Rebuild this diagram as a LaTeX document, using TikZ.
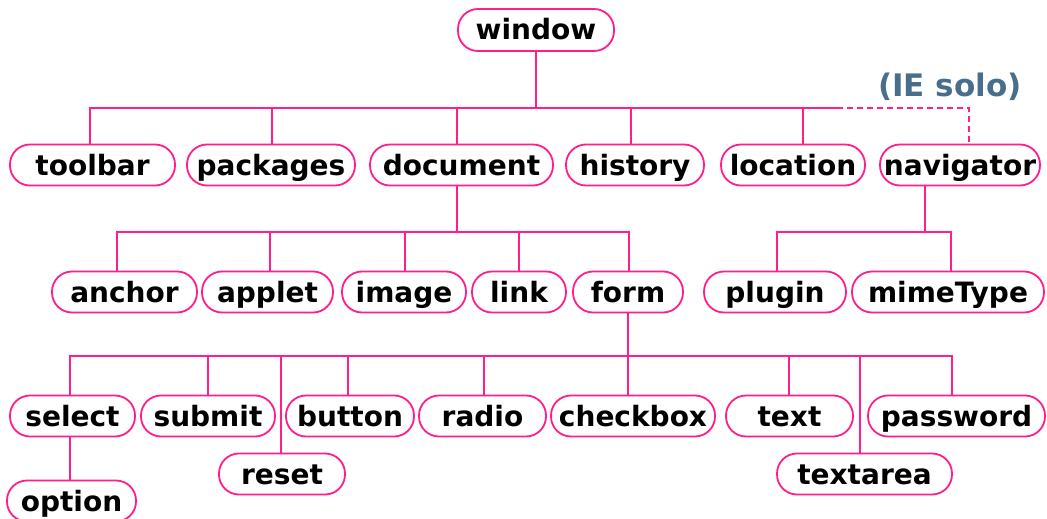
\documentclass[tikz,border=0pt]{standalone}
\usepackage{fontspec}
\setmainfont{DejaVu Sans}
\definecolor{pinkline}{RGB}{255,30,140}
\definecolor{solo}{RGB}{72,110,140}
\begin{document}
\begin{tikzpicture}[x=1pt,y=-1pt,
  box/.style={draw=pinkline, line width=1.8pt, rounded corners=20pt,
    minimum height=41pt, inner sep=0pt, text height=20pt, text depth=0pt,
    font=\fontsize{28}{32}\selectfont\bfseries, text=black},
  conn/.style={draw=pinkline, line width=1.8pt}]
\useasboundingbox[fill=white] (0,0) rectangle (1047,519);
% row 0
\node[box, minimum width=156pt, minimum height=42pt] (window) at (536,30) {window};
% row 1
\node[box, minimum width=165pt] (toolbar) at (92.5,165) {toolbar};
\node[box, minimum width=168pt] (packages) at (271,165) {packages};
\node[box, minimum width=183pt] (document) at (461.5,165) {document};
\node[box, minimum width=138pt] (history) at (635,165) {history};
\node[box, minimum width=144pt] (location) at (793,165) {location};
\node[box, minimum width=160pt] (navigator) at (960,165) {navigator};
\node[font=\fontsize{31}{34}\selectfont\bfseries, text=solo, inner sep=0pt] (ie) at (950,87) {(IE solo)};
% row 2
\node[box, minimum width=145pt] (anchor) at (124.5,292) {anchor};
\node[box, minimum width=131pt] (applet) at (267.5,292) {applet};
\node[box, minimum width=124pt] (image) at (404,292) {image};
\node[box, minimum width=94pt] (linknode) at (519,292) {link};
\node[box, minimum width=110pt] (form) at (628,292) {form};
\node[box, minimum width=142pt] (plugin) at (775,292) {plugin};
\node[box, minimum width=192pt] (mimeType) at (948,292) {mimeType};
% row 3
\node[box, minimum width=125pt] (select) at (72.5,416) {select};
\node[box, minimum width=134pt] (submit) at (208,416) {submit};
\node[box, minimum width=128pt] (button) at (350,416) {button};
\node[box, minimum width=127pt] (radio) at (482.5,416) {radio};
\node[box, minimum width=164pt] (checkbox) at (633,416) {checkbox};
\node[box, minimum width=127pt] (textnode) at (789.5,416) {text};
\node[box, minimum width=177pt] (password) at (956.5,416) {password};
\node[box, minimum width=126pt] (reset) at (282,474) {reset};
\node[box, minimum width=175pt] (textarea) at (864.5,474) {textarea};
\node[box, minimum width=129pt] (option) at (71.5,501) {option};
% bus coordinates
\coordinate (b1) at (837,108);
\coordinate (b2) at (0,232);
\coordinate (b3) at (0,356);
% row 1 connectors
\draw[conn] (window.south) -- (window.south |- b1);
\draw[conn] ([xshift=-2.5pt]toolbar.north) |- (b1);
\draw[conn, dash pattern=on 6pt off 4pt] (b1) -| ([xshift=9pt]navigator.north);
\draw[conn] ([xshift=1pt]packages.north) -- ([xshift=1pt]packages.north |- b1);
\draw[conn] ([xshift=-4.5pt]document.north) -- ([xshift=-4.5pt]document.north |- b1);
\draw[conn] ([xshift=-4pt]history.north) -- ([xshift=-4pt]history.north |- b1);
\draw[conn] ([xshift=10pt]location.north) -- ([xshift=10pt]location.north |- b1);
% row 2 connectors
\draw[conn] ([xshift=-4.5pt]document.south) -- ([xshift=-4.5pt]document.south |- b2);
\draw[conn] ([xshift=-7.5pt]anchor.north) |- ([xshift=1pt]form.north |- b2) -- ([xshift=1pt]form.north);
\draw[conn] ([xshift=2.5pt]applet.north) -- ([xshift=2.5pt]applet.north |- b2);
\draw[conn] ([xshift=1pt]image.north) -- ([xshift=1pt]image.north |- b2);
\draw[conn] (linknode.north) -- (linknode.north |- b2);
\draw[conn] ([xshift=-35pt]navigator.south) -- ([xshift=-35pt]navigator.south |- b2);
\draw[conn] ([xshift=2pt]plugin.north) |- ([xshift=3pt]mimeType.north |- b2) -- ([xshift=3pt]mimeType.north);
% row 3 connectors
\draw[conn] (form.south) -- (form.south |- b3);
\draw[conn] ([xshift=-2.5pt]select.north) |- ([xshift=-4.5pt]password.north |- b3) -- ([xshift=-4.5pt]password.north);
\draw[conn] (submit.north) -- (submit.north |- b3);
\draw[conn] ([xshift=-1pt]reset.north) -- ([xshift=-1pt]reset.north |- b3);
\draw[conn] ([xshift=-2pt]button.north) -- ([xshift=-2pt]button.north |- b3);
\draw[conn] ([xshift=1.5pt]radio.north) -- ([xshift=1.5pt]radio.north |- b3);
\draw[conn] ([xshift=-5pt]checkbox.north) -- ([xshift=-5pt]checkbox.north |- b3);
\draw[conn] ([xshift=-0.5pt]textnode.north) -- ([xshift=-0.5pt]textnode.north |- b3);
\draw[conn] ([xshift=-4.5pt]textarea.north) -- ([xshift=-4.5pt]textarea.north |- b3);
\draw[conn] ([xshift=-2.5pt]select.south) -- ([xshift=-2.5pt]select.south |- option.north);
\end{tikzpicture}
\end{document}
